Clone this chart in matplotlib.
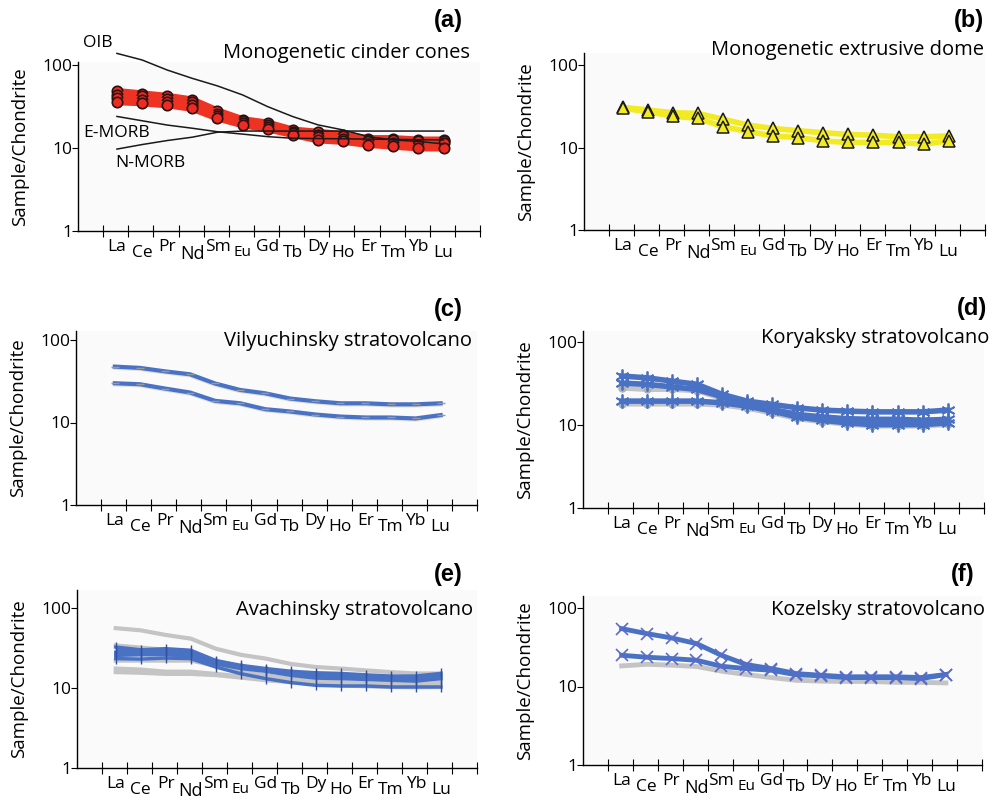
import matplotlib
matplotlib.use("Agg")
import matplotlib.pyplot as plt
import numpy as np

plt.rcParams.update({
    "font.family": ["Open Sans", "DejaVu Sans"],
    "axes.linewidth": 1.0,
})

W, H = 994, 798

# Rare earth elements, chondrite-normalised
ree = ["La", "Ce", "Pr", "Nd", "Sm", "Eu", "Gd", "Tb", "Dy", "Ho", "Er", "Tm", "Yb", "Lu"]

# (a) reference basalts
oib = [138, 115, 87, 69, 56, 43.6, 31.5, 23.9, 19, 16.5, 13.7, 12.5, 12, 11.2]
e_morb = [24, 21.3, 18.9, 17.3, 15.7, 14.7, 13.7, 13.1, 13, 12.9, 12.8, 12.7, 12.6, 12.5]
n_morb = [9.7, 11, 12.3, 13.5, 15.5, 16, 16, 16, 16, 16, 16, 16, 16, 16]

# (a) monogenetic cinder cones
cinder = [
    [48, 45, 42, 38, 28, 22, 20, 16.5, 15.5, 14.5, 13, 13, 12.5, 12.5],
    [44, 42, 39, 36, 26, 21, 19, 15.5, 14.5, 14, 12.5, 12.5, 12, 12],
    [40, 38, 36, 33, 24, 20, 18, 15, 13.5, 13, 12, 11.5, 11, 11.5],
    [36, 35, 33, 30, 23, 19, 17, 14.5, 12.5, 12, 11, 10.5, 10, 10],
]

# (b) monogenetic extrusive dome
dome = [
    [30.7, 28.5, 26.4, 25.9, 22, 18.7, 17, 16, 15.1, 14.4, 14.1, 13.5, 13.5, 13.8],
    [30, 27, 24, 22.5, 17.9, 15.6, 13.8, 13.2, 12, 11.5, 11.5, 11.5, 11, 12],
]

# (c) Vilyuchinsky
vilyuchinsky = [
    [47.6, 45.9, 41.7, 38.4, 29.7, 24.8, 22.6, 19.5, 18.1, 17.1, 17.1, 16.6, 16.6, 17.1],
    [29.9, 29.1, 25.8, 23.1, 18.3, 17.1, 14.5, 13.6, 12.5, 11.8, 11.5, 11.5, 11.2, 12.3],
]

# (d) Koryaksky
koryaksky_grey = [
    [28, 27, 27, 26, 21, 17, 15, 13, 12, 11.5, 11, 11, 11, 11.5],
    [18, 18, 18, 18, 17.5, 16, 14, 12, 11, 10.3, 9.8, 9.8, 9.8, 10.2],
]
koryaksky = [
    [38.9, 37, 33.8, 30.9, 23.4, 19.4, 17.7, 16.1, 15.1, 14.7, 14.4, 14.4, 14.4, 15.1],
    [32, 30.9, 28.8, 26.8, 21.9, 18.5, 15.4, 13.4, 12.5, 11.9, 11.7, 11.7, 11.4, 11.7],
    [19.4, 19.4, 19.4, 19.4, 18.5, 16.9, 14.7, 12.5, 11.4, 10.6, 10.1, 10.1, 10.1, 10.6],
]

# (e) Avachinsky
avachinsky_grey = [
    [56, 52.6, 46, 41.4, 31, 26, 23.3, 20, 18.3, 17.5, 16.6, 15.8, 15.2, 15.2],
    [34, 32, 30, 29, 22, 18.5, 16.5, 15, 14, 13.5, 13, 12.5, 12.2, 12.5],
    [22, 22, 22, 22, 19, 16, 14.5, 13, 12.3, 11.8, 11.5, 11.2, 11, 11.2],
    [17.5, 17, 16, 16, 15, 14, 13, 12, 11.5, 11, 10.8, 10.5, 10.5, 10.5],
    [15.8, 15.5, 15, 15, 14.5, 13.5, 12.5, 11.8, 11.2, 10.8, 10.5, 10.3, 10.2, 10.3],
]
avachinsky = [
    [32.5, 30, 31, 29.6, 22, 19.2, 17.5, 16.2, 15.5, 15.2, 14.6, 14.1, 14.1, 15.2],
    [28, 28, 28.5, 27, 21, 18.2, 16.8, 15.3, 14.4, 14.2, 13.7, 13.3, 13.1, 14],
    [25.6, 26, 26, 25, 20, 17.5, 16.2, 14.4, 13.3, 13.1, 12.8, 12.5, 12.2, 13.1],
    [23.3, 23, 23.7, 23.3, 18.3, 15.1, 13.1, 11.7, 10.8, 10.6, 10.6, 10.3, 10.3, 10.3],
]

# (f) Kozelsky
kozelsky_grey = [18.3, 19.2, 18.7, 18, 15.7, 14.2, 13, 12, 11.7, 11.6, 11.6, 11.3, 11.3, 11.1]
kozelsky = [
    [54.6, 47.2, 41.6, 35.2, 25, 19, 16.9, 14.6, 13.9, 13.3, 13.3, 13.3, 13, 14.2],
    [25, 23.6, 22.7, 21.6, 18.1, 16.9, 16.1, 14.1, 13.7, 13, 13, 13, 12.6, 14.2],
]

x = np.arange(len(ree))
blue = "#4a72c4"
grey = "#c4c4c4"


def make_axes(x0, x1, y1, y100, ytop):
    # pixel box -> figure fraction, log axis from 1 to ytop
    dec = (y1 - y100) / 2.0
    top_px = y1 - dec * np.log10(ytop)
    ax = fig.add_axes([x0 / W, (H - y1) / H, (x1 - x0) / W, (y1 - top_px) / H])
    ax.set_yscale("log")
    ax.set_ylim(1, ytop)
    ax.set_xlim(-1.55, 14.45)
    ax.set_facecolor("#fafafa")
    for s in ("top", "right"):
        ax.spines[s].set_visible(False)
    ax.set_yticks([1, 10, 100])
    ax.set_yticklabels(["1", "10", "100"])
    ax.yaxis.set_minor_locator(matplotlib.ticker.NullLocator())
    ax.tick_params(axis="y", direction="out", length=4, pad=0, labelsize=12.5)
    ax.set_xticks(np.arange(-0.55, 14.5, 1))
    ax.set_xticklabels([])
    ax.tick_params(axis="x", direction="inout", length=8)
    for i, el in enumerate(ree):
        off = -5.5 if i % 2 == 0 else -10
        size = 13 if el == "Nd" else (11 if el == "Eu" else 12.5)
        ax.annotate(el, xy=(i, 0), xycoords=("data", "axes fraction"),
                    xytext=(0, off), textcoords="offset points",
                    ha="center", va="top", fontsize=size)
    # axis title placed as plain figure text, rotated
    ymid = 1 - ((y1 + top_px) / 2) / H
    fig.text((x0 - 58) / W, ymid, "Sample/Chondrite", rotation=90, fontsize=13.5,
             ha="center", va="center")
    return ax


def fig_text(px, py, s, **kw):
    fig.text(px / W, 1 - py / H, s, **kw)


fig = plt.figure(figsize=(W / 100, H / 100), dpi=100)

# (a) Monogenetic cinder cones
ax = make_axes(78, 480, 231, 65, 108)
ax.fill_between(x, np.min(cinder, axis=0), np.max(cinder, axis=0), color="#ee3322", lw=0, zorder=2)
for s in cinder:
    ax.plot(x, s, color="#ee3322", lw=5, zorder=3, marker="o", ms=7.5,
            mfc="#ee2a22", mec="#2a1010", mew=1.2)
for ref in (oib, e_morb, n_morb):
    ax.plot(x, ref, color="#1a1a1a", lw=1.1, zorder=4, clip_on=False)
fig_text(83, 43, "OIB", fontsize=12.5, va="center", ha="left")
fig_text(83, 133, "E-MORB", fontsize=12.5, va="center", ha="left")
fig_text(115, 163, "N-MORB", fontsize=12.5, va="center", ha="left")

# (b) Monogenetic extrusive dome
ax = make_axes(584, 985, 230, 65, 140)
for s in dome:
    ax.plot(x, s, color="#f2ea22", lw=4, zorder=2)
for s in dome:
    ax.plot(x, s, ls="none", marker="^", ms=8, mfc="#f2ea22", mec="#1a1a1a", mew=1.1, zorder=3)

# (c) Vilyuchinsky stratovolcano
ax = make_axes(76, 477, 505, 340, 128)
for s in vilyuchinsky:
    ax.plot(x, np.array(s) * 0.97, color="#dddddd", lw=3, zorder=2)
    ax.plot(x, s, color=blue, lw=3, zorder=3, marker="_", ms=6, mec="#999999")

# (d) Koryaksky stratovolcano
ax = make_axes(583, 984, 508, 342, 135)
for s in koryaksky_grey:
    ax.plot(x, s, color=grey, lw=4, zorder=2, marker="o", ms=5, mfc="#b0b0b0", mec="#b0b0b0")
for s in koryaksky:
    ax.plot(x, s, color=blue, lw=4, zorder=3, marker=(6, 2, 0), ms=10, mec=blue, mew=1.3)

# (e) Avachinsky stratovolcano
ax = make_axes(77, 477, 768, 608, 168)
for s in avachinsky_grey:
    ax.plot(x, s, color=grey, lw=3, zorder=2)
ax.fill_between(x, avachinsky[2], avachinsky[0], color=blue, lw=0, zorder=3)
for s in avachinsky:
    ax.plot(x, s, color=blue, lw=2.5, zorder=3, marker="|", ms=7, mec="#3050a0")

# (f) Kozelsky stratovolcano
ax = make_axes(583, 982, 765, 608, 142)
ax.plot(x, kozelsky_grey, color=grey, lw=3.5, zorder=2)
for s in kozelsky:
    ax.plot(x, s, color=blue, lw=3.5, zorder=3, marker="x", ms=8, mec="#5a6cc8", mew=1.2)

titles = [
    (470, 53, "Monogenetic cinder cones"),
    (984, 50, "Monogenetic extrusive dome"),
    (472, 341, "Vilyuchinsky stratovolcano"),
    (989, 338, "Koryaksky stratovolcano"),
    (473, 610, "Avachinsky stratovolcano"),
    (985, 610, "Kozelsky stratovolcano"),
]
for px, py, t in titles:
    fig_text(px, py, t, fontsize=14.5, ha="right", va="center")

letters = [(463, 20, "(a)"), (984, 20, "(b)"), (463, 309, "(c)"),
           (987, 308, "(d)"), (463, 575, "(e)"), (975, 575, "(f)")]
for px, py, t in letters:
    fig_text(px, py, t, fontsize=17, fontweight="bold", ha="right", va="center",
             family="Liberation Sans")

fig.savefig("out.png", dpi=100)
